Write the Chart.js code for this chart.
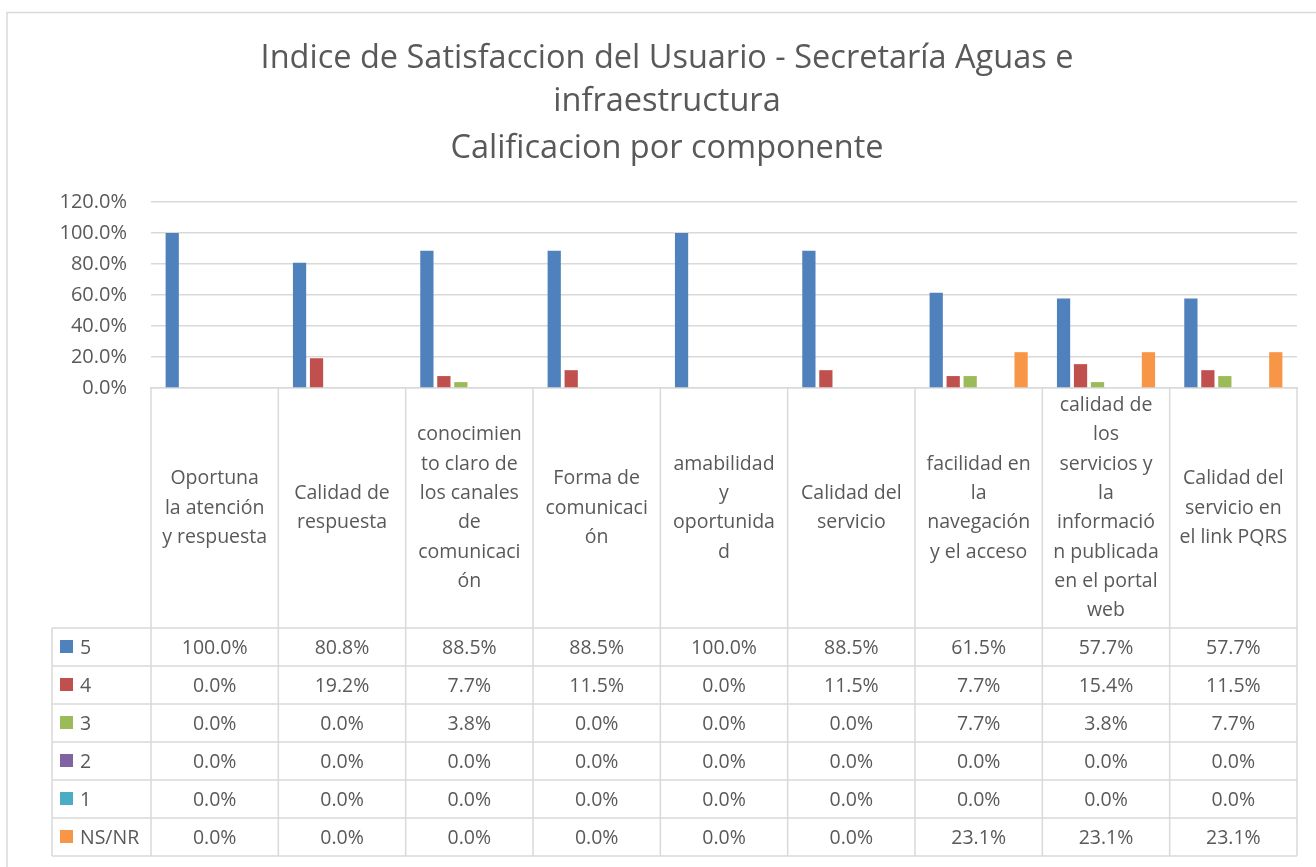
<!DOCTYPE html>
<html><head><meta charset="utf-8">
<script src="https://cdn.jsdelivr.net/npm/chart.js@4.4.1/dist/chart.umd.min.js"></script>
<style>html,body{margin:0;padding:0;background:#fff}#wrap{width:1316px;height:867px;position:relative}</style>
</head><body><div id="wrap"><canvas id="c" width="1316" height="867"></canvas></div>
<script>
const titleLines = ['Indice de Satisfaccion del Usuario - Secretaría Aguas e', 'infraestructura', 'Calificacion por componente'];
const categories = [
  ['Oportuna', 'la atención', 'y respuesta'],
  ['Calidad de', 'respuesta'],
  ['conocimien', 'to claro de', 'los canales', 'de', 'comunicaci', 'ón'],
  ['Forma de', 'comunicaci', 'ón'],
  ['amabilidad', 'y', 'oportunida', 'd'],
  ['Calidad del', 'servicio'],
  ['facilidad en', 'la', 'navegación', 'y el acceso'],
  ['calidad de', 'los', 'servicios y', 'la', 'informació', 'n publicada', 'en el portal', 'web'],
  ['Calidad del', 'servicio en', 'el link PQRS']
];
const seriesNames = ['5', '4', '3', '2', '1', 'NS/NR'];
const values5 = [100.0, 80.8, 88.5, 88.5, 100.0, 88.5, 61.5, 57.7, 57.7];
const values4 = [0.0, 19.2, 7.7, 11.5, 0.0, 11.5, 7.7, 15.4, 11.5];
const values3 = [0.0, 0.0, 3.8, 0.0, 0.0, 0.0, 7.7, 3.8, 7.7];
const values2 = [0.0, 0.0, 0.0, 0.0, 0.0, 0.0, 0.0, 0.0, 0.0];
const values1 = [0.0, 0.0, 0.0, 0.0, 0.0, 0.0, 0.0, 0.0, 0.0];
const valuesNSNR = [0.0, 0.0, 0.0, 0.0, 0.0, 0.0, 23.1, 23.1, 23.1];
const seriesColors = ['#4F81BD', '#C0504D', '#9BBB59', '#8064A2', '#4BACC6', '#F79646'];
const yMax = 120, yStep = 20;

const allValues = [values5, values4, values3, values2, values1, valuesNSNR];
const FONT = '"Open Sans", "Noto Sans", sans-serif';
const TEXT = '#595959';
const LINE = '#d9d9d9';

const tablePlugin = {
  id: 'tablePlugin',
  beforeDraw(chart) {
    const ctx = chart.ctx;
    ctx.save();
    ctx.fillStyle = '#fff';
    ctx.fillRect(0, 0, chart.width, chart.height);
    ctx.strokeStyle = LINE; ctx.lineWidth = 1.5;
    ctx.beginPath();
    ctx.moveTo(7, chart.height); ctx.lineTo(7, 12.5); ctx.lineTo(chart.width, 12.5);
    ctx.stroke();
    // title
    ctx.fillStyle = TEXT;
    ctx.font = '32.5px ' + FONT;
    ctx.textAlign = 'center'; ctx.textBaseline = 'middle';
    const tys = [59, 102, 149];
    titleLines.forEach((t, i) => ctx.fillText(t, 667, tys[i]));
    ctx.restore();
  },
  afterDraw(chart) {
    const ctx = chart.ctx;
    const xs = chart.scales.x;
    const area = chart.chartArea;
    const n = categories.length;
    const cw = (area.right - area.left) / n;
    const top = area.bottom;
    const headerH = 240, rowH = 38;
    const tableLeft = 52;
    const rowsTop = top + headerH;
    const bottom = rowsTop + rowH * seriesNames.length;
    ctx.save();
    ctx.strokeStyle = LINE; ctx.lineWidth = 1.5;
    ctx.beginPath();
    for (let i = 0; i <= n; i++) {
      const x = area.left + i * cw;
      ctx.moveTo(x, top); ctx.lineTo(x, bottom);
    }
    ctx.moveTo(tableLeft, rowsTop); ctx.lineTo(tableLeft, bottom);
    for (let k = 0; k <= seriesNames.length; k++) {
      const y = rowsTop + k * rowH;
      ctx.moveTo(tableLeft, y); ctx.lineTo(area.right, y);
    }
    ctx.stroke();
    ctx.fillStyle = TEXT;
    ctx.font = '19.5px ' + FONT;
    ctx.textAlign = 'center'; ctx.textBaseline = 'middle';
    const lh = 29.3;
    categories.forEach((lines, i) => {
      const cx = xs.getPixelForValue(i);
      const cy = top + headerH / 2;
      const start = cy - (lines.length - 1) * lh / 2;
      lines.forEach((l, j) => ctx.fillText(l, cx, start + j * lh));
    });
    seriesNames.forEach((name, k) => {
      const cy = rowsTop + k * rowH + rowH / 2;
      ctx.fillStyle = seriesColors[k];
      ctx.fillRect(60, cy - 7, 13, 13);
      ctx.fillStyle = TEXT;
      ctx.textAlign = 'left';
      ctx.fillText(name, 80, cy + 1);
      ctx.textAlign = 'center';
      allValues[k].forEach((v, i) => {
        ctx.fillText(v.toFixed(1) + '%', xs.getPixelForValue(i), cy + 1);
      });
    });
    ctx.restore();
  }
};

new Chart(document.getElementById('c'), {
  type: 'bar',
  data: {
    labels: categories.map(c => c.join(' ')),
    datasets: seriesNames.map((name, k) => ({
      label: name,
      data: allValues[k],
      backgroundColor: seriesColors[k],
      borderWidth: 0,
      barPercentage: 0.78,
      categoryPercentage: 0.8
    }))
  },
  options: {
    responsive: false,
    animation: false,
    layout: { padding: { top: 202, right: 19, left: 0, bottom: 0 } },
    plugins: { legend: { display: false }, tooltip: { enabled: false }, title: { display: false } },
    scales: {
      x: {
        ticks: { display: false },
        grid: { display: false },
        border: { display: true, color: LINE, width: 1.5 },
        afterFit(scale) { scale.height = 867 - 388; }
      },
      y: {
        min: 0, max: yMax,
        ticks: {
          stepSize: yStep,
          padding: 24,
          color: TEXT,
          font: { family: FONT, size: 20 },
          callback: v => Number(v).toFixed(1) + '%'
        },
        grid: { color: LINE, lineWidth: 1.5, drawTicks: false },
        border: { display: false },
        afterFit(scale) { scale.width = 151; }
      }
    }
  },
  plugins: [tablePlugin]
});
</script>
</body></html>
